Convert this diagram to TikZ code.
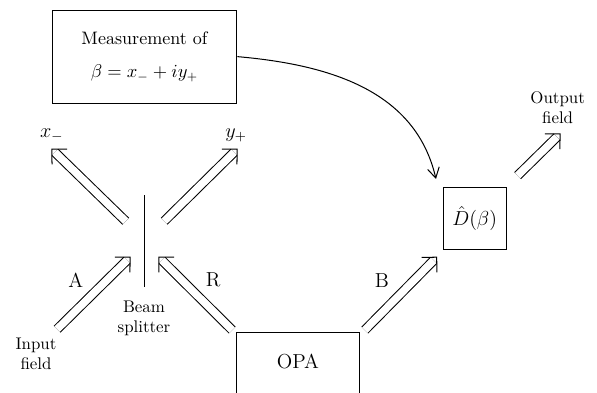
\documentclass[tikz,border=0pt]{standalone}
\usepackage{amsmath,amssymb}
\usepackage{tikz}
\usetikzlibrary{calc,arrows.meta,positioning}

% double beam with square hooks at its end
\newcommand{\beamarrow}[2]{%
    \draw[beam] (#1) -- ($(#2)!2.6pt!(#1)$);
    \draw[hook] ($(#2)!9pt!45:(#1)$) -- (#2) -- ($(#2)!9pt!-45:(#1)$);
}

\begin{document}
\begin{tikzpicture}[
    every node/.style={font=\normalsize},
    box/.style={draw,semithick,inner sep=2pt},
    beam/.style={double,double distance=4.5pt,semithick},
    hook/.style={semithick,line join=miter},
    tag/.style={font=\large}
]
\useasboundingbox (0,0) rectangle (12.44,8.17);

% Boxes
\node[box,minimum width=3.85cm,minimum height=1.94cm,align=center,
    font=\fontsize{10.7}{13}\selectfont]
    (meas) at (3.01,6.99)
    {Measurement of\\[7pt] \(\beta = x_- + iy_+\)};
\node[box,minimum width=1.31cm,minimum height=1.29cm,font=\large]
    (disp) at (9.89,3.625) {\(\hat{D}(\beta)\)};
\node[box,anchor=north,minimum width=2.58cm,minimum height=2cm]
    (opa) at (6.21,1.25) {};
\node[tag] (opatext) at (6.21,0.63) {OPA};

% Beam splitter
\coordinate (bstop) at (3.0,4.10);
\coordinate (bsbot) at (3.0,2.19);
\draw (bstop) -- (bsbot);
\node[align=center] (bslabel) at (3.0,1.54) {Beam\\splitter};

% Ports round the splitter
\coordinate (inA) at (1.19,1.31);
\coordinate (tipA) at (2.71,2.81);
\coordinate (tipR) at (3.31,2.81);
\coordinate (fromX) at (2.62,3.56);
\coordinate (fromY) at (3.42,3.56);
\coordinate (tipX) at (1.08,5.06);
\coordinate (tipY) at (4.94,5.06);
\coordinate (fromR) at ($(opa.north west)+(-0.07,0.04)$);
\coordinate (fromB) at ($(opa.north east)+(0.09,0.04)$);
\coordinate (tipB) at (9.10,2.81);
\coordinate (fromOut) at ($(disp.north east)+(0.23,0.23)$);
\coordinate (tipOut) at (11.67,5.38);

\node[tag] (xlab) at (1.08,5.35) {\(x_-\)};
\node[tag] (ylab) at (4.92,5.35) {\(y_+\)};
\node[align=center] (infield) at (0.75,0.79) {Input\\field};
\node[align=center] (outfield) at (11.62,5.92) {Output\\field};

% Beams
\beamarrow{inA}{tipA}
\beamarrow{fromR}{tipR}
\beamarrow{fromX}{tipX}
\beamarrow{fromY}{tipY}
\beamarrow{fromB}{tipB}
\beamarrow{fromOut}{tipOut}

\node[tag] (labA) at (1.58,2.33) {A};
\node[tag] (labR) at (4.44,2.33) {R};
\node[tag] (labB) at (7.96,2.33) {B};

% Feed-forward
\draw[semithick,-{Straight Barb[length=6pt,width=7pt]}]
    (meas.east) to[out=-5,in=103]
    ($(disp.north west)+(-0.14,0.16)$);

\end{tikzpicture}
\end{document}
